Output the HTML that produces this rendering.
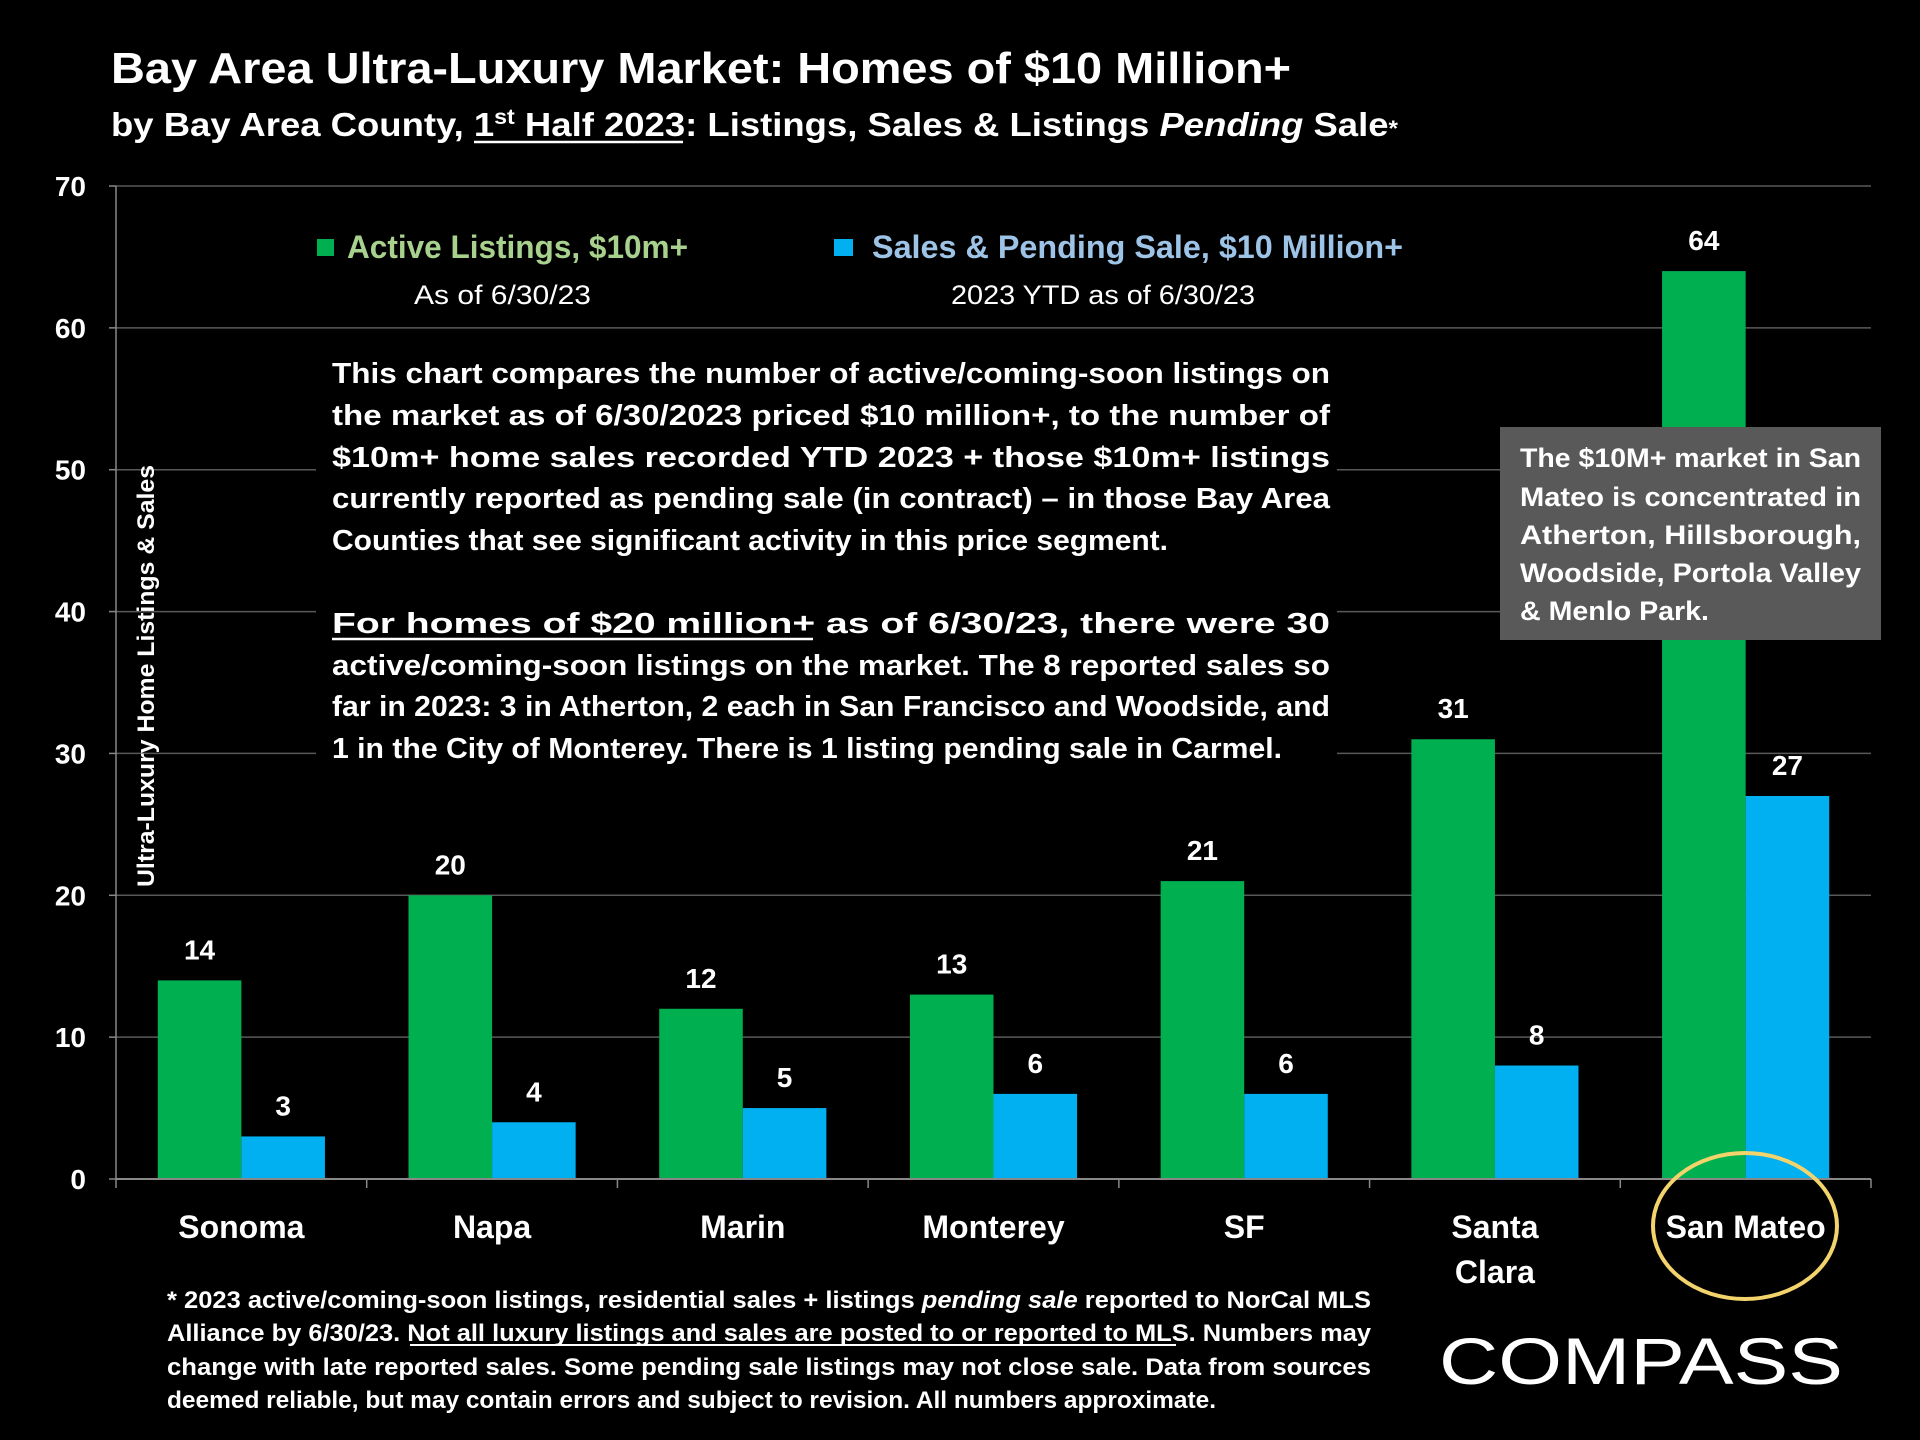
<!DOCTYPE html>
<html><head><meta charset="utf-8"><style>
html,body{margin:0;padding:0;background:#000;}
svg{display:block;font-family:"Liberation Sans",sans-serif;}
</style></head><body>
<svg id="chart" width="1920" height="1440" viewBox="0 0 1920 1440">
<rect width="1920" height="1440" fill="#000"/>
<g>
<text x="111" y="83" fill="#fff" font-weight="bold" font-size="44" textLength="1180" lengthAdjust="spacingAndGlyphs">Bay Area Ultra-Luxury Market: Homes of $10 Million+</text>
</g>
<g>
<text x="111" y="136" fill="#fff" font-weight="bold" font-size="33" textLength="1287" lengthAdjust="spacingAndGlyphs">by Bay Area County, 1<tspan font-size="21" dy="-12">st</tspan><tspan dy="12"> Half 2023:  Listings, Sales &amp; Listings </tspan><tspan font-style="italic">Pending</tspan> Sale<tspan font-size="22">*</tspan></text>
<line x1="474" y1="142" x2="683" y2="142" stroke="#fff" stroke-width="2.5"/>
</g>
<g id="grid"></g>
<g id="bars"></g>
<g>
<rect x="317" y="239" width="17" height="17" fill="#00b050"/>
<text x="347" y="258" fill="#a9d18e" font-weight="bold" font-size="32" textLength="341" lengthAdjust="spacingAndGlyphs">Active Listings, $10m+</text>
<text x="414" y="304" fill="#fff" font-size="27" textLength="177" lengthAdjust="spacingAndGlyphs">As of 6/30/23</text>
<rect x="834" y="239" width="19" height="17" fill="#00b0f0"/>
<text x="872" y="258" fill="#9dc3e6" font-weight="bold" font-size="32" textLength="531" lengthAdjust="spacingAndGlyphs">Sales &amp; Pending Sale, $10 Million+</text>
<text x="951" y="304" fill="#fff" font-size="27" textLength="304" lengthAdjust="spacingAndGlyphs">2023 YTD as of 6/30/23</text>
</g>
<g>
<rect x="316" y="350" width="1021" height="420" fill="#000"/>
<g fill="#fff" font-weight="bold" font-size="29">
<text x="332" y="383" textLength="998" lengthAdjust="spacingAndGlyphs">This chart compares the number of active/coming-soon listings on</text>
<text x="332" y="425" textLength="998" lengthAdjust="spacingAndGlyphs">the market as of 6/30/2023 priced $10 million+, to the number of</text>
<text x="332" y="467" textLength="998" lengthAdjust="spacingAndGlyphs">$10m+ home sales recorded YTD 2023 + those $10m+ listings</text>
<text x="332" y="508" textLength="998" lengthAdjust="spacingAndGlyphs">currently reported as pending sale (in contract) – in those Bay Area</text>
<text x="332" y="550" textLength="836" lengthAdjust="spacingAndGlyphs">Counties that see significant activity in this price segment.</text>
<text x="332" y="633" textLength="998" lengthAdjust="spacingAndGlyphs">For homes of $20 million+ as of 6/30/23, there were 30</text>
<text x="332" y="675" textLength="998" lengthAdjust="spacingAndGlyphs">active/coming-soon listings on the market. The 8 reported sales so</text>
<text x="332" y="716" textLength="998" lengthAdjust="spacingAndGlyphs">far in 2023: 3 in Atherton, 2 each in San Francisco and Woodside, and</text>
<text x="332" y="758" textLength="950" lengthAdjust="spacingAndGlyphs">1 in the City of Monterey. There is 1 listing pending sale in Carmel.</text>
</g>
<line x1="332" y1="639" x2="813" y2="639" stroke="#fff" stroke-width="2.5"/>
</g>
<g>
<rect x="1500" y="427" width="381" height="213" fill="#595959"/>
<g fill="#fff" font-weight="bold" font-size="27">
<text x="1520" y="467" textLength="341" lengthAdjust="spacingAndGlyphs">The $10M+ market in San</text>
<text x="1520" y="506" textLength="341" lengthAdjust="spacingAndGlyphs">Mateo is concentrated in</text>
<text x="1520" y="544" textLength="341" lengthAdjust="spacingAndGlyphs">Atherton,    Hillsborough,</text>
<text x="1520" y="582" textLength="341" lengthAdjust="spacingAndGlyphs">Woodside, Portola Valley</text>
<text x="1520" y="620" textLength="189" lengthAdjust="spacingAndGlyphs">&amp; Menlo Park.</text>
</g>
</g>
<text transform="translate(154,676) rotate(-90)" text-anchor="middle" fill="#fff" font-weight="bold" font-size="24" textLength="422" lengthAdjust="spacingAndGlyphs">Ultra-Luxury Home Listings &amp; Sales</text>
<ellipse cx="1745" cy="1226" rx="92" ry="73" fill="none" stroke="#f3d36b" stroke-width="4"/>
<g fill="#fff" font-weight="bold" font-size="24">
<text x="167" y="1308" textLength="1204" lengthAdjust="spacingAndGlyphs">* 2023 active/coming-soon listings, residential sales + listings <tspan font-style="italic">pending sale</tspan> reported to NorCal MLS</text>
<text x="167" y="1341" textLength="1204" lengthAdjust="spacingAndGlyphs">Alliance by 6/30/23. Not all luxury listings and sales are posted to or reported to MLS. Numbers may</text>
<text x="167" y="1375" textLength="1204" lengthAdjust="spacingAndGlyphs">change with late reported sales. Some pending sale listings may not close sale. Data from sources</text>
<text x="167" y="1408" textLength="1049" lengthAdjust="spacingAndGlyphs">deemed reliable, but may contain errors and subject to revision. All numbers approximate.</text>
<line x1="410" y1="1345" x2="1176" y2="1345" stroke="#fff" stroke-width="2"/>
</g>
<text x="1439" y="1384" fill="#fff" font-size="66" textLength="404" lengthAdjust="spacingAndGlyphs">COMPASS</text>
</svg>
<script>
const categories = ["Sonoma","Napa","Marin","Monterey","SF","Santa Clara","San Mateo"];
const activeListings = [14,20,12,13,21,31,64];
const salesPending = [3,4,5,6,6,8,27];
const yTicks = [0,10,20,30,40,50,60,70];

const NS = "http://www.w3.org/2000/svg";
const x0 = 116, x1 = 1871, yBase = 1179, yTop = 186, yMax = 70;
const groupW = (x1 - x0) / categories.length;
const barW = groupW / 3;
function y(v){ return yBase - (v / yMax) * (yBase - yTop); }
function gx(i){ return x0 + i * groupW; }
function mk(tag, attrs, parent){ const e = document.createElementNS(NS, tag); for (const k in attrs) e.setAttribute(k, attrs[k]); parent.appendChild(e); return e; }

const grid = document.getElementById('grid');
yTicks.forEach(t => {
  if (t > 0) {
    const l = mk('line', {x1: x0, x2: x1, y1: y(t), y2: y(t), stroke: '#595959', 'stroke-width': 1.5}, grid);
    
    
  }
  mk('line', {x1: x0 - 7, x2: x0, y1: y(t), y2: y(t), stroke: '#888', 'stroke-width': 1.5}, grid);
  const lb = mk('text', {x: 86, y: y(t) + 10, 'text-anchor': 'end', fill: '#fff', 'font-weight': 'bold', 'font-size': 28}, grid);
  lb.textContent = t;
  
  
});
mk('line', {x1: x0, x2: x0, y1: yTop, y2: yBase, stroke: '#888', 'stroke-width': 1.5}, grid);

const bars = document.getElementById('bars');
categories.forEach((c, i) => {
  const gxs = gx(i);
  const a = activeListings[i], s = salesPending[i];
  const ga = mk('rect', {x: gxs + barW/2, y: y(a), width: barW, height: yBase - y(a), fill: '#00b050'}, bars);
  
  
  const gb = mk('rect', {x: gxs + barW*1.5, y: y(s), width: barW, height: yBase - y(s), fill: '#00b0f0'}, bars);
  
  
  const la = mk('text', {x: gxs + barW, y: y(a) - 21, 'text-anchor': 'middle', fill: '#fff', 'font-weight': 'bold', 'font-size': 28}, bars);
  la.textContent = a;
  
  
  const ls = mk('text', {x: gxs + barW*2, y: y(s) - 21, 'text-anchor': 'middle', fill: '#fff', 'font-weight': 'bold', 'font-size': 28}, bars);
  ls.textContent = s;
  
  
  const parts = c === 'Santa Clara' ? ['Santa', 'Clara'] : [c];
  parts.forEach((p, j) => {
    const t = mk('text', {x: gxs + groupW/2, y: 1238 + j*45, 'text-anchor': 'middle', fill: '#fff', 'font-weight': 'bold', 'font-size': 32}, bars);
    t.textContent = p;
    
    
  });
});
for (let i = 0; i <= categories.length; i++) {
  mk('line', {x1: gx(i), x2: gx(i), y1: yBase, y2: yBase + 9, stroke: '#888', 'stroke-width': 1.5}, bars);
}
mk('line', {x1: x0, x2: x1, y1: yBase, y2: yBase, stroke: '#888', 'stroke-width': 2}, bars);
</script>
</body></html>
